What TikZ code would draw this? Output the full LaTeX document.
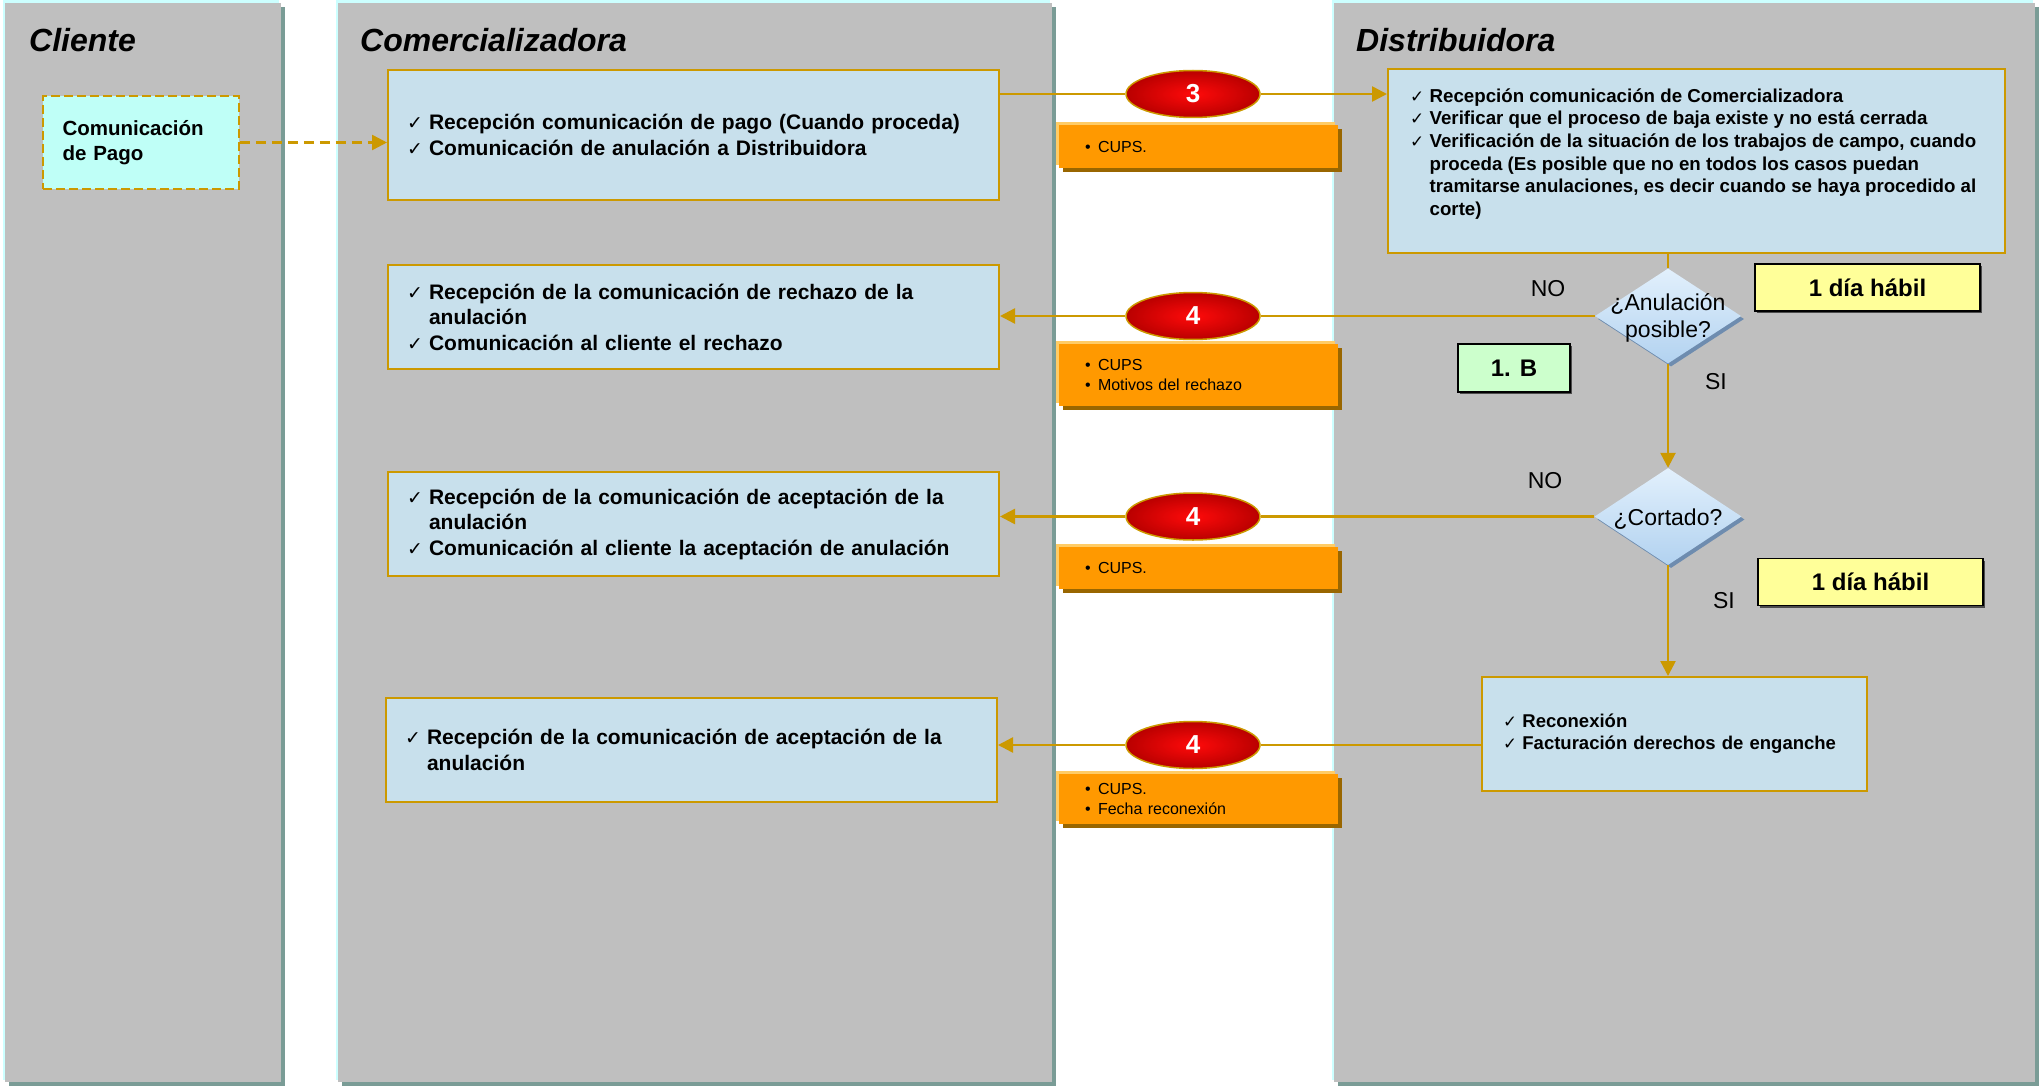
\documentclass[tikz,border=0pt]{standalone}
\usepackage{fontspec}
\usepackage{graphicx}
\setmainfont{Liberation Sans}
\newfontfamily\symfont{DejaVu Sans}
\usetikzlibrary{shapes.geometric, arrows.meta, shadows}

\definecolor{gold}{RGB}{204,153,0}
\definecolor{lanegray}{RGB}{191,191,191}
\definecolor{laneteal}{RGB}{122,156,150}
\definecolor{lanecyan}{RGB}{204,255,255}
\definecolor{boxblue}{RGB}{200,224,236}
\definecolor{pagocyan}{RGB}{191,255,247}
\definecolor{infoorange}{RGB}{255,153,0}
\definecolor{infolight}{RGB}{255,204,102}
\definecolor{infodark}{RGB}{153,102,0}
\definecolor{diamtop}{RGB}{226,240,252}
\definecolor{diambottom}{RGB}{178,210,240}
\definecolor{diamshadow}{RGB}{110,140,175}
\definecolor{daysyellow}{RGB}{255,255,153}
\definecolor{refgreen}{RGB}{204,255,204}

\newcommand{\tick}{\makebox[1.05em][l]{\scalebox{0.9}{\symfont\mdseries ✓}}}
\newcommand{\ind}{\hspace*{1.05em}}
\newcommand{\bul}{\makebox[13pt][l]{\textbullet}}

\tikzstyle{lane} = [rectangle, fill=lanegray, inner sep=0pt, minimum height=1079pt, general shadow={shadow xshift=4pt, shadow yshift=-4pt, fill=laneteal}, general shadow={shadow xshift=-2.5pt, shadow yshift=2.5pt, fill=lanecyan}]
\tikzstyle{title} = [anchor=west, inner sep=0pt, font=\fontsize{32}{36}\selectfont\bfseries\itshape]
\tikzstyle{stepbox} = [rectangle, draw=gold, line width=2pt, fill=boxblue, inner xsep=19pt, minimum width=611pt, text width=573pt, align=left, font=\fontsize{21}{25.5}\selectfont\bfseries]
\tikzstyle{pagobox} = [rectangle, draw=gold, line width=1.5pt, dash pattern=on 9pt off 4pt, fill=pagocyan, inner xsep=19.5pt, minimum width=196pt, minimum height=93pt, text width=157pt, align=left, font=\fontsize{20.5}{24.5}\selectfont\bfseries]
\tikzstyle{token} = [ellipse, draw=gold, line width=1.5pt, inner color={rgb,255:red,255;green,10;blue,10}, outer color={rgb,255:red,185;green,0;blue,0}, minimum width=134pt, minimum height=47pt, inner sep=0pt, text=white, font=\fontsize{26}{30}\selectfont\bfseries]
\tikzstyle{info} = [rectangle, fill=infoorange, inner xsep=26pt, inner ysep=0pt, minimum width=279pt, text width=227pt, align=left, font=\fontsize{16}{20}\selectfont, general shadow={shadow xshift=4pt, shadow yshift=-4pt, fill=infodark}, general shadow={shadow xshift=-3pt, shadow yshift=3pt, fill=infolight}]
\tikzstyle{decision} = [diamond, top color=diamtop, bottom color=diambottom, inner sep=0pt, font=\fontsize{23}{27}\selectfont, general shadow={shadow xshift=3pt, shadow yshift=-3pt, fill=diamshadow}]
\tikzstyle{daybox} = [rectangle, draw=black, line width=1.5pt, fill=daysyellow, minimum width=225pt, minimum height=47pt, font=\fontsize{24}{28}\selectfont\bfseries, general shadow={shadow xshift=2pt, shadow yshift=-2pt, fill=black!70}]
\tikzstyle{refbox} = [daybox, fill=refgreen, minimum width=112pt, minimum height=48pt]
\tikzstyle{branch} = [inner sep=0pt, font=\fontsize{23}{27}\selectfont]
\tikzstyle{flow} = [draw=gold, line width=2.5pt]
\tikzstyle{arrow} = [flow, -{Triangle[length=15pt,width=15pt]}]

\begin{document}
\begin{tikzpicture}[x=1pt, y=-1pt]

    \useasboundingbox (0,0) rectangle (2039,1086);

    % swimlanes
    \node[lane, minimum width=276pt] (lcliente) at (143,542.5) {};
    \node[lane, minimum width=714pt] (lcomer) at (695,542.5) {};
    \node[lane, minimum width=701pt] (ldistri) at (1684.5,542.5) {};

    \node[title] (tcliente) at (29,40) {Cliente};
    \node[title] (tcomer) at (360,40) {Comercializadora};
    \node[title] (tdistri) at (1356,40) {Distribuidora};

    % Cliente
    \node[pagobox] (pago) at (141,142.5) {Comunicación\\de Pago};

    % Comercializadora
    \node[stepbox, minimum height=130pt] (recep) at (693.5,135) {
        \tick Recepción comunicación de pago (Cuando proceda)\\
        \tick Comunicación de anulación a Distribuidora
    };

    \node[stepbox, minimum height=104pt] (rechazo) at (693.5,317) {
        \tick Recepción de la comunicación de rechazo de la\\
        \ind anulación\\
        \tick Comunicación al cliente el rechazo
    };

    \node[stepbox, minimum height=104pt] (acepta) at (693.5,524) {
        \tick Recepción de la comunicación de aceptación de la\\
        \ind anulación\\
        \tick Comunicación al cliente la aceptación de anulación
    };

    \node[stepbox, minimum height=104pt] (aceptarec) at (691.5,750) {
        \tick Recepción de la comunicación de aceptación de la\\
        \ind anulación
    };

    % messages and data
    \node[token] (msg3) at (1193,94) {3};
    \node[token] (msg4a) at (1193,316) {4};
    \node[token] (msg4b) at (1193,516.5) {4};
    \node[token] (msg4c) at (1193,745) {4};

    \node[info, minimum height=43pt] (datos3) at (1198.5,146.5) {\bul CUPS.};
    \node[info, minimum height=62pt] (datos4a) at (1198.5,375) {\bul CUPS\\\bul Motivos del rechazo};
    \node[info, minimum height=42pt] (datos4b) at (1198.5,568) {\bul CUPS.};
    \node[info, minimum height=50pt] (datos4c) at (1198.5,799) {\bul CUPS.\\\bul Fecha reconexión};

    % Distribuidora
    \node[rectangle, draw=gold, line width=2pt, fill=boxblue, inner xsep=22pt, inner ysep=14.5pt,
        font=\fontsize{18.7}{22.6}\selectfont\bfseries]
    (verif) at (1696.5,161) {\parbox[c][155pt][t]{573pt}{\raggedright
        \vspace*{5pt}
        \tick Recepción comunicación de Comercializadora\\
        \tick Verificar que el proceso de baja existe y no está cerrada\\
        \tick Verificación de la situación de los trabajos de campo, cuando\\
        \ind proceda (Es posible que no en todos los casos puedan\\
        \ind tramitarse anulaciones, es decir cuando se haya procedido al\\
        \ind corte)}};

    \node[decision, minimum width=146pt, minimum height=95pt] (posible) at (1668,316)
        {\smash{\makebox[0pt]{\raisebox{-9pt}{\begin{tabular}{@{}c@{}}¿Anulación\\posible?\end{tabular}}}}};
    \node[decision, minimum width=147pt, minimum height=97pt] (cortado) at (1668,516.5)
        {\smash{\makebox[0pt]{\raisebox{-9pt}{¿Cortado?}}}};

    \node[stepbox, inner xsep=21pt, minimum width=385pt, minimum height=114pt, text width=343pt,
        font=\fontsize{18.5}{22}\selectfont\bfseries] (reconex) at (1674.5,734) {
        \tick Reconexión\\
        \tick Facturación derechos de enganche
    };

    \node[daybox] (plazoa) at (1867.5,287.5) {1 día hábil};
    \node[daybox] (plazob) at (1870.5,582) {1 día hábil};
    \node[refbox] (ref1b) at (1514,368) {1. B};

    \node[branch] (noa) at (1548,289) {NO};
    \node[branch] (sia) at (1716,382) {SI};
    \node[branch] (nob) at (1545,481) {NO};
    \node[branch] (sib) at (1724,601) {SI};

    % connectors
    \draw[arrow, dash pattern=on 10pt off 6pt] (pago.east) -- (pago.east -| recep.west);
    \draw[flow] (msg3.west) -- (msg3.west -| recep.east);
    \draw[arrow] (msg3.east) -- (msg3.east -| verif.west);
    \draw[flow] (verif.south -| posible.north) -- (posible.north);
    \draw[flow] (posible.west) -- (msg4a.east);
    \draw[arrow] (msg4a.west) -- (msg4a.west -| rechazo.east);
    \draw[arrow] (posible.south) -- (cortado.north);
    \draw[flow] (cortado.west) -- (msg4b.east);
    \draw[arrow] (msg4b.west) -- (msg4b.west -| acepta.east);
    \draw[arrow] (cortado.south) -- (cortado.south |- reconex.north);
    \draw[flow] (msg4c.east -| reconex.west) -- (msg4c.east);
    \draw[arrow] (msg4c.west) -- (msg4c.west -| aceptarec.east);

\end{tikzpicture}
\end{document}
